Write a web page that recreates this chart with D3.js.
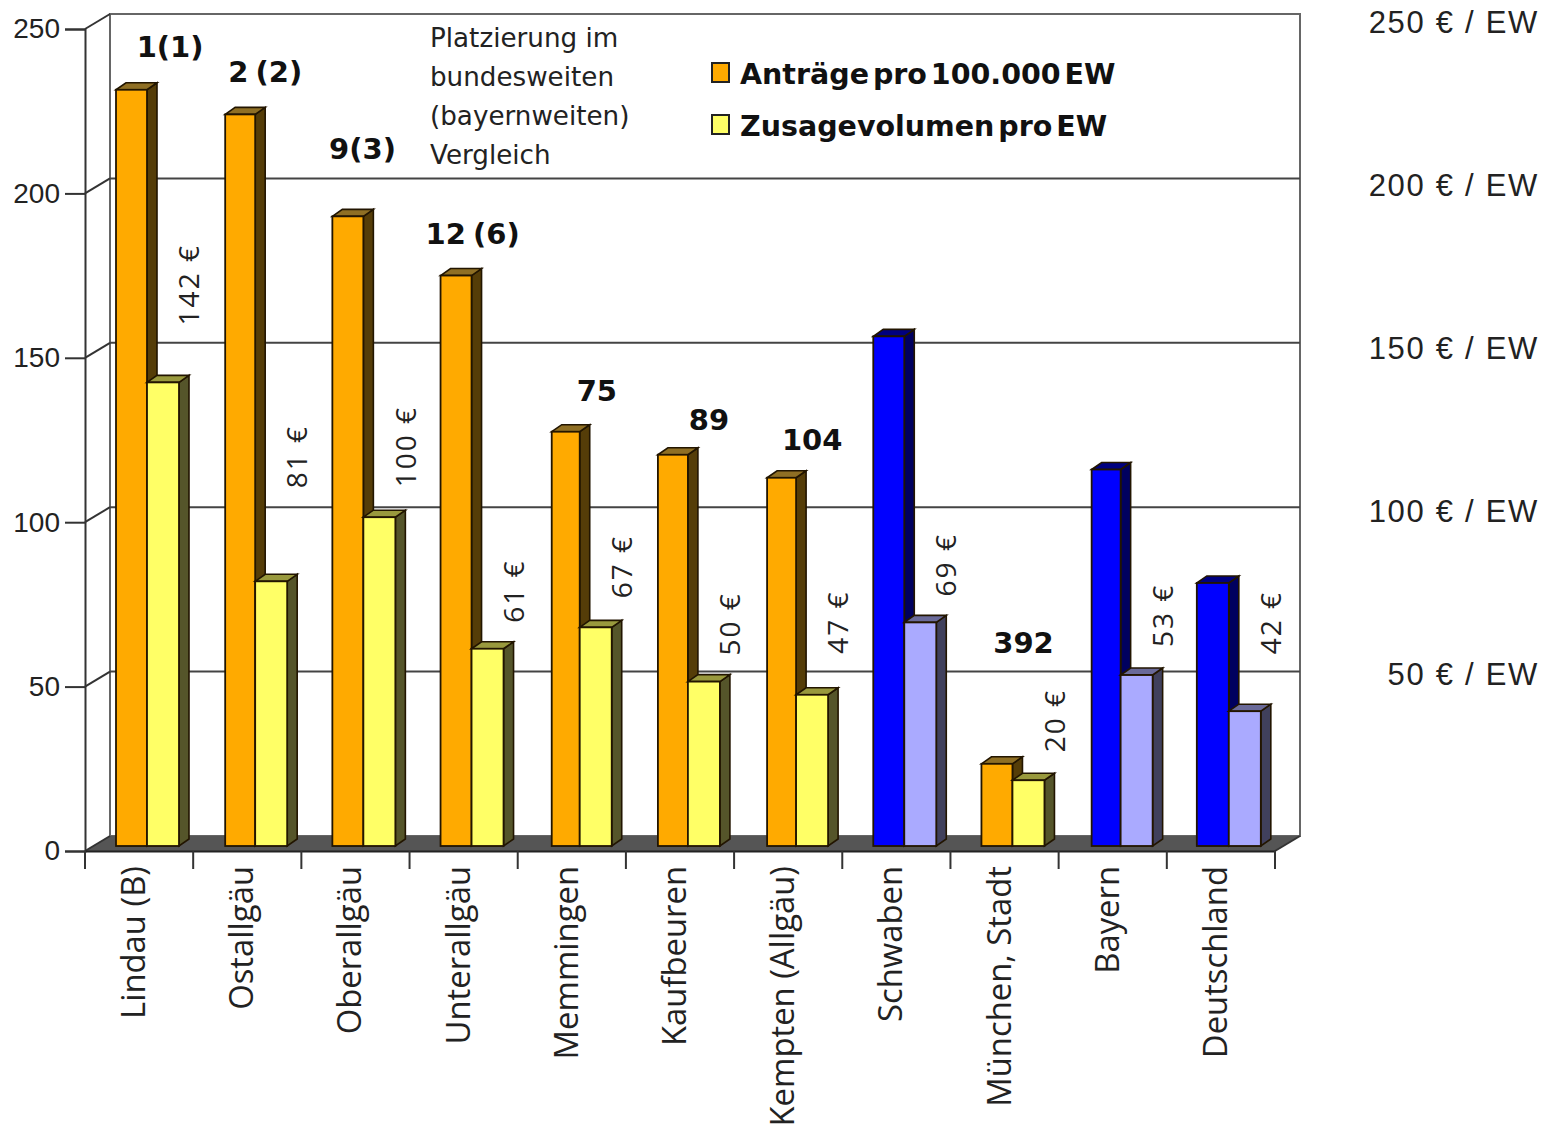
<!DOCTYPE html>
<html><head><meta charset="utf-8">
<script src="https://cdn.jsdelivr.net/npm/d3@7"></script>
<style>html,body{margin:0;padding:0;background:#fff}svg{display:block}</style>
</head><body><svg id="c" width="1552" height="1131"></svg>
<script>
const categories=["Lindau (B)","Ostallgäu","Oberallgäu","Unterallgäu","Memmingen","Kaufbeuren","Kempten (Allgäu)","Schwaben","München, Stadt","Bayern","Deutschland"];
const antraege=[230,222.5,191.5,173.5,126,119,112,155,25,114.5,80];
const zusage=[141,80.5,100,60,66.5,50,46,68,20,52,41];
const zusageLabels=["142 €","81 €","100 €","61 €","67 €","50 €","47 €","69 €","20 €","53 €","42 €"];
const ranks=["1(1)","2 (2)","9(3)","12 (6)","75","89","104","","392","",""];
const isRegion=[false,false,false,false,false,false,false,true,false,true,true];
const yTicks=[0,50,100,150,200,250];
const euroTicks=[50,100,150,200,250];
const noteLines=["Platzierung im","bundesweiten","(bayernweiten)","Vergleich"];

// layout (not data)
const rankDy=[33,32,57,32,31,25,28,0,111,0,0];
const rankDx=[0,-13,-24,-22,-6,-2,-7,0,-12,0,0];
const labelGap=[57,93,30,26,29,26,41,26,28,28,57];
const orangeNudge=[0,1,0,0,3,1,2,0,0,2,-1];
const W={left:85,right:1275,axisY:851,base:846,dx:10,dy:-7};
const backDx=25,backDy=-15;

const svg=d3.select("#c");
const x=d3.scaleBand().domain(categories).range([W.left,W.right]).paddingInner(0).paddingOuter(0);
const y=d3.scaleLinear().domain([0,250]).range([W.axisY,29]);
const h=d=>y(0)-y(d);
const euro=d3.scaleLinear().domain([50,250]).range([674,22]);

// back wall and floor
const wallTop=y(250)+backDy, wallBot=y(0)+backDy;
svg.append("rect").attr("x",W.left+backDx).attr("y",wallTop).attr("width",W.right-W.left).attr("height",wallBot-wallTop).attr("fill","#fff").attr("stroke","#666").attr("stroke-width",2);
svg.append("path").attr("d",`M${W.left},${y(0)}L${W.left+backDx},${wallBot}L${W.right+backDx},${wallBot}L${W.right},${y(0)}Z`).attr("fill","#555");
// grid & slants
yTicks.slice(1,5).forEach(t=>svg.append("line").attr("x1",W.left+backDx).attr("x2",W.right+backDx).attr("y1",y(t)+backDy).attr("y2",y(t)+backDy).attr("stroke","#444").attr("stroke-width",2));
yTicks.forEach(t=>svg.append("line").attr("x1",W.left).attr("x2",W.left+backDx).attr("y1",y(t)).attr("y2",y(t)+backDy).attr("stroke","#333").attr("stroke-width",2));
svg.append("line").attr("x1",W.right).attr("x2",W.right+backDx).attr("y1",y(0)).attr("y2",wallBot).attr("stroke","#333").attr("stroke-width",2);

// axes
const ax=svg.append("g").attr("transform",`translate(${W.left},0)`).call(d3.axisLeft(y).tickValues(yTicks).tickSize(20).tickPadding(5));
ax.selectAll("path,line").attr("stroke","#333").attr("stroke-width",2);
ax.selectAll("text").attr("font-family","Liberation Sans").attr("font-size",28).attr("fill","#222");
const bx=svg.append("g").attr("transform",`translate(0,${W.axisY})`).call(d3.axisBottom(x).tickSize(0).tickFormat(""));
bx.select("path").attr("stroke","#222").attr("stroke-width",2);
bx.selectAll("line").remove();
d3.range(categories.length+1).forEach(i=>{
  const px=W.left+x.step()*i;
  svg.append("line").attr("x1",px).attr("x2",px).attr("y1",y(0)).attr("y2",y(0)+18).attr("stroke","#333").attr("stroke-width",2);
});
svg.append("g").selectAll("text").data(categories).join("text")
 .attr("transform",d=>`translate(${x(d)+x.bandwidth()/2+6},866) rotate(-90)`)
 .attr("text-anchor","end").attr("font-family","Open Sans").attr("font-size",32.8).attr("fill","#222").text(d=>d);

// 3D bars
const PAL={orange:["#ffaa00","#553d08","#8f6f24"],yellow:["#ffff66","#55552a","#99993d"],blue:["#0000ff","#00005f","#00007f"],pale:["#aaaaff","#40405c","#6a6a99"]};
const stroke="#221500";
function bar(g,x0,w,val,pal){
  const top=W.base-h(val), {dx,dy}=W;
  g.append("path").attr("d",`M${x0+w},${top}L${x0+w+dx},${top+dy}L${x0+w+dx},${W.base+dy}L${x0+w},${W.base}Z`).attr("fill",pal[1]).attr("stroke",stroke).attr("stroke-width",1.6);
  g.append("path").attr("d",`M${x0},${top}L${x0+dx},${top+dy}L${x0+w+dx},${top+dy}L${x0+w},${top}Z`).attr("fill",pal[2]).attr("stroke",stroke).attr("stroke-width",1.6);
  g.append("rect").attr("x",x0).attr("y",top).attr("width",w).attr("height",W.base-top).attr("fill",pal[0]).attr("stroke",stroke).attr("stroke-width",1.8);
}
const bw=31;
categories.forEach((c,i)=>{
  const g=svg.append("g");
  const x0=x(c)+31;
  bar(g,x0+orangeNudge[i],bw-orangeNudge[i],antraege[i],isRegion[i]?PAL.blue:PAL.orange);
  bar(g,x0+bw,bw+1,zusage[i],isRegion[i]?PAL.pale:PAL.yellow);
});

// value labels
svg.append("g").selectAll("text").data(categories).join("text")
 .attr("transform",(d,i)=>`translate(${x(d)+x.bandwidth()+6},${W.base-h(zusage[i])-labelGap[i]}) rotate(-90)`)
 .attr("font-family","Open Sans").attr("font-size",28).attr("letter-spacing",2).attr("fill","#222").text((d,i)=>zusageLabels[i]);

// rank labels
svg.append("g").selectAll("text").data(categories).join("text")
 .attr("x",(d,i)=>x(d)+x.bandwidth()/2+31+rankDx[i])
 .attr("y",(d,i)=>W.base-h(antraege[i])-rankDy[i])
 .attr("text-anchor","middle").attr("font-family","DejaVu Sans").attr("font-weight","bold").attr("font-size",29).attr("word-spacing",-3).attr("fill","#111").text((d,i)=>ranks[i]);

// note
svg.append("g").selectAll("text").data(noteLines).join("text").attr("x",430).attr("y",(d,i)=>47+i*39)
 .attr("font-family","DejaVu Sans").attr("font-size",26.2).attr("fill","#222").text(d=>d);

// legend
[["Anträge pro 100.000 EW",PAL.orange,82],["Zusagevolumen pro EW",PAL.yellow,134]].forEach(([t,p,b])=>{
  const g=svg.append("g");
  g.append("rect").attr("x",712).attr("y",b-19).attr("width",17).attr("height",19).attr("fill",p[0]).attr("stroke","#222").attr("stroke-width",2);
  g.append("text").attr("x",740).attr("y",b+2).attr("font-family","DejaVu Sans").attr("font-weight","bold").attr("font-size",28.5).attr("word-spacing",-6).attr("fill","#111").text(t);
});

// right labels
svg.append("g").selectAll("text").data(euroTicks).join("text").attr("x",1539).attr("y",d=>euro(d)+11)
 .attr("text-anchor","end").attr("font-family","Liberation Sans").attr("font-size",31).attr("letter-spacing",1.7).attr("fill","#222").text(d=>d+" € / EW");
</script></body></html>
